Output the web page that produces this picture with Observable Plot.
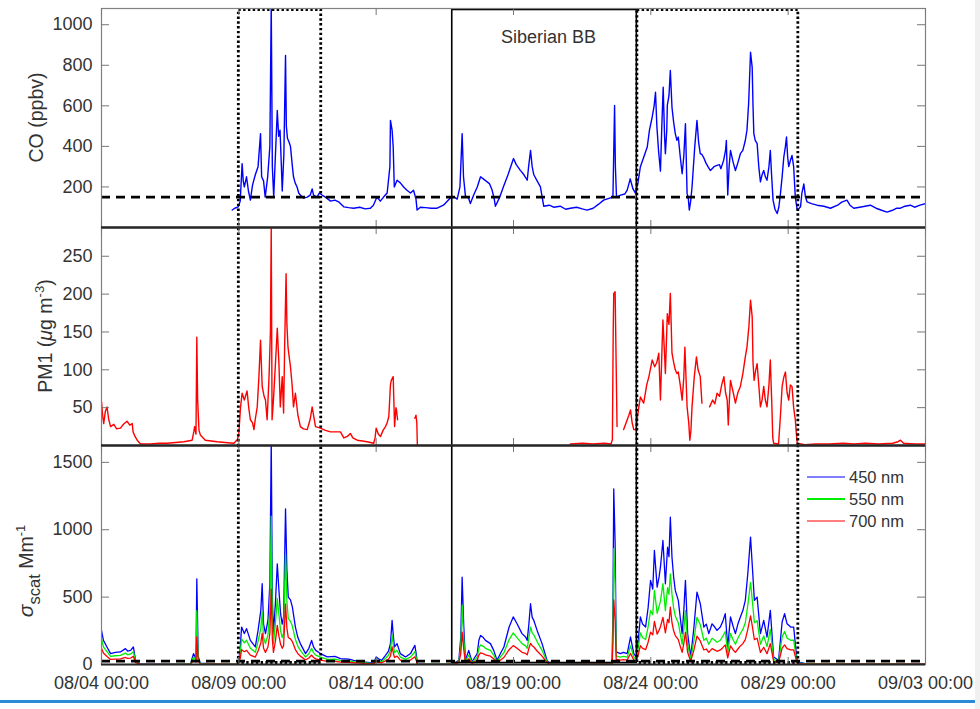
<!DOCTYPE html>
<html><head><meta charset="utf-8">
<script src="https://cdn.jsdelivr.net/npm/d3@7"></script>
<script src="https://cdn.jsdelivr.net/npm/@observablehq/plot@0.6"></script>
<style>
body{margin:0;background:#fff;}
#wrap{position:relative;width:980px;height:709px;overflow:hidden;background:#fff;}
#charts svg{display:block;}
#edge{position:absolute;left:975px;top:0;width:5px;height:709px;background:#f0f0f0;}
#bar{position:absolute;left:0;top:700px;width:975px;height:3px;background:#2b8ad8;}
</style></head><body>
<div id="wrap"><div id="charts"></div><div id="edge"></div><div id="bar"></div></div>
<script>
// ---- axis / annotation data (days since 08/04 00:00) ----
const xTicks = [0, 5, 10, 15, 20, 25, 30];
const xTickLabels = ["08/04 00:00", "08/09 00:00", "08/14 00:00", "08/19 00:00", "08/24 00:00", "08/29 00:00", "09/03 00:00"];
const coTicks = [200, 400, 600, 800, 1000];
const pmTicks = [50, 100, 150, 200, 250];
const scatTicks = [0, 500, 1000, 1500];
const coDomain = [0, 1080];
const pmDomain = [0, 288];
const scatDomain = [0, 1625];
const coBackground = 150;
const scatBackground = 25;
const boxes = [
  {start: 5.0, end: 8.0, kind: "dotted"},
  {start: 12.77, end: 19.49, kind: "solid", label: "Siberian BB"},
  {start: 19.51, end: 25.37, kind: "dotted"}
];
const wavelengths = ["450 nm", "550 nm", "700 nm"];
const waveColors = ["#0000ff", "#00ee00", "#ff0000"];

// ---- CO (ppbv): [day, value] ----
const coData = [[4.76,86],[4.85,95],[4.98,102],[5.05,130],[5.12,315],[5.16,230],[5.2,200],[5.28,250],[5.35,180],[5.42,135],[5.5,210],[5.6,260],[5.7,300],[5.79,463],[5.83,250],[5.9,230],[5.96,150],[6.05,250],[6.13,400],[6.18,1100],[6.22,300],[6.27,150],[6.33,350],[6.4,577],[6.45,450],[6.5,480],[6.55,300],[6.58,180],[6.64,360],[6.7,848],[6.73,500],[6.77,440],[6.83,420],[6.88,400],[6.95,300],[6.99,250],[7.05,220],[7.12,200],[7.18,170],[7.24,160],[7.35,145],[7.49,150],[7.6,160],[7.67,190],[7.72,160],[7.85,150],[7.93,170],[8.03,160],[8.15,150],[8.34,130],[8.5,135],[8.65,125],[8.82,102],[9.0,98],[9.18,95],[9.4,100],[9.6,92],[9.79,95],[9.9,110],[10.03,150],[10.15,130],[10.27,150],[10.4,170],[10.5,300],[10.52,528],[10.58,480],[10.62,397],[10.66,200],[10.76,233],[10.88,220],[11.0,200],[11.12,184],[11.25,170],[11.36,184],[11.45,140],[11.49,86],[11.61,100],[11.8,98],[12.0,95],[12.22,95],[12.45,110],[12.7,145],[12.85,150],[12.95,140],[13.05,200],[13.13,463],[13.18,250],[13.25,155],[13.35,150],[13.43,118],[13.55,160],[13.68,200],[13.8,250],[13.9,240],[14.04,225],[14.13,215],[14.22,185],[14.3,140],[14.34,105],[14.5,150],[14.63,200],[14.8,260],[15.0,340],[15.1,310],[15.25,282],[15.38,260],[15.5,233],[15.55,300],[15.62,380],[15.68,300],[15.74,260],[15.86,230],[15.98,200],[16.1,105],[16.3,110],[16.46,100],[16.7,105],[16.9,90],[17.07,95],[17.3,100],[17.5,92],[17.68,86],[17.9,95],[18.1,115],[18.28,135],[18.5,145],[18.62,150],[18.66,450],[18.68,602],[18.71,300],[18.75,150],[18.9,160],[19.05,165],[19.14,184],[19.25,240],[19.35,190],[19.44,170],[19.53,220],[19.62,300],[19.75,350],[19.87,397],[19.95,480],[20.05,545],[20.12,600],[20.17,667],[20.22,500],[20.28,380],[20.35,278],[20.4,500],[20.45,692],[20.5,450],[20.53,364],[20.58,480],[20.6,602],[20.66,650],[20.71,774],[20.77,593],[20.83,520],[20.89,463],[20.95,430],[21.0,446],[21.07,350],[21.14,265],[21.2,350],[21.26,512],[21.32,167],[21.36,150],[21.4,86],[21.45,130],[21.5,200],[21.6,400],[21.68,528],[21.74,420],[21.8,364],[21.86,360],[21.92,346],[22.0,320],[22.08,300],[22.17,281],[22.3,300],[22.41,306],[22.5,310],[22.55,290],[22.65,331],[22.72,380],[22.75,429],[22.8,160],[22.85,300],[22.9,380],[23.0,320],[23.08,281],[23.17,320],[23.26,364],[23.35,380],[23.44,429],[23.5,480],[23.56,610],[23.63,864],[23.69,790],[23.72,600],[23.75,463],[23.8,430],[23.87,414],[23.93,300],[23.99,225],[24.05,260],[24.11,281],[24.17,250],[24.23,233],[24.3,300],[24.35,380],[24.4,250],[24.45,135],[24.52,90],[24.6,69],[24.66,100],[24.72,168],[24.78,250],[24.84,346],[24.9,400],[24.94,446],[24.98,350],[25.02,300],[25.08,330],[25.14,355],[25.2,300],[25.26,150],[25.33,86],[25.4,95],[25.45,102],[25.5,170],[25.57,215],[25.63,150],[25.69,126],[25.85,118],[26.05,110],[26.3,105],[26.54,95],[26.8,110],[26.95,125],[27.14,135],[27.25,110],[27.39,95],[27.6,100],[27.8,105],[27.99,110],[28.2,95],[28.4,85],[28.6,76],[28.8,85],[28.95,95],[29.09,95],[29.25,105],[29.45,110],[29.6,100],[29.8,110],[30.0,118]];

// ---- PM1 (ug m-3): [day, value]; null = no data ----
const pm1Data = [[0,58],[0.04,40],[0.08,29],[0.14,45],[0.2,51],[0.26,35],[0.33,25],[0.45,28],[0.55,22],[0.69,23],[0.8,28],[0.93,32],[1.03,27],[1.12,29],[1.15,18],[1.22,12],[1.3,7],[1.42,2],[1.78,2],[2.1,3],[2.39,3],[2.7,4],[3.0,5],[3.15,6],[3.3,7],[3.36,18],[3.39,25],[3.44,15],[3.47,143],[3.5,60],[3.55,20],[3.6,14],[3.78,7],[4.0,6],[4.21,5],[4.5,4],[4.82,3],[4.95,8],[5.0,16],[5.06,50],[5.12,69],[5.2,60],[5.3,72],[5.36,50],[5.42,34],[5.5,30],[5.55,21],[5.6,35],[5.67,51],[5.73,90],[5.79,139],[5.85,78],[5.92,65],[5.97,60],[6.03,34],[6.1,91],[6.15,150],[6.18,289],[6.21,34],[6.26,60],[6.3,86],[6.35,120],[6.4,155],[6.46,108],[6.51,51],[6.58,91],[6.63,43],[6.67,135],[6.72,227],[6.75,160],[6.79,130],[6.84,115],[6.88,104],[6.94,80],[6.99,51],[7.06,69],[7.15,40],[7.24,25],[7.35,22],[7.49,21],[7.6,35],[7.67,51],[7.72,40],[7.79,25],[7.97,23],[8.15,20],[8.34,18],[8.5,18],[8.7,18],[8.82,10],[8.95,12],[9.06,16],[9.15,10],[9.31,7],[9.5,6],[9.67,5],[9.91,3],[9.96,10],[10.0,23],[10.08,15],[10.16,12],[10.25,20],[10.34,25],[10.4,30],[10.46,38],[10.52,80],[10.55,86],[10.62,91],[10.67,25],[10.72,50],[10.74,47],[10.78,34],[10.8,null],[11.4,null],[11.41,36],[11.45,40],[11.48,30],[11.5,0],[11.52,null],[17.0,null],[17.07,2],[17.5,3],[17.9,2],[18.3,3],[18.55,2],[18.6,8],[18.63,150],[18.65,201],[18.7,203],[18.74,100],[18.77,25],[18.8,null],[18.98,null],[19.01,21],[19.1,30],[19.2,40],[19.26,47],[19.32,30],[19.38,21],[19.47,21],[19.5,34],[19.56,50],[19.62,64],[19.74,56],[19.85,80],[19.93,91],[20.05,113],[20.14,104],[20.22,110],[20.29,122],[20.35,60],[20.4,120],[20.44,166],[20.5,120],[20.53,95],[20.6,174],[20.66,160],[20.71,201],[20.77,122],[20.83,110],[20.89,100],[20.95,95],[21.0,97],[21.07,80],[21.14,60],[21.2,90],[21.24,130],[21.32,51],[21.38,30],[21.42,7],[21.46,20],[21.5,51],[21.58,90],[21.66,117],[21.72,100],[21.8,91],[21.86,56],[21.88,null],[22.1,null],[22.14,51],[22.25,60],[22.33,55],[22.41,69],[22.5,65],[22.58,80],[22.66,91],[22.72,70],[22.78,60],[22.82,27],[22.86,60],[22.9,86],[23.0,70],[23.08,56],[23.17,70],[23.26,78],[23.35,95],[23.44,117],[23.5,130],[23.57,157],[23.63,192],[23.69,170],[23.72,110],[23.76,86],[23.82,100],[23.87,108],[23.93,80],[23.99,51],[24.05,60],[24.11,78],[24.17,60],[24.23,51],[24.3,80],[24.35,113],[24.4,60],[24.44,10],[24.47,3],[24.65,2],[24.72,40],[24.78,78],[24.84,90],[24.9,97],[24.96,70],[25.02,60],[25.08,80],[25.14,78],[25.2,50],[25.26,34],[25.3,15],[25.33,3],[25.6,1],[26.0,2],[26.5,2],[27.0,3],[27.4,2],[27.8,3],[28.3,2],[28.8,3],[29.0,5],[29.09,7],[29.2,3],[29.6,2],[30.0,2]];

// ---- scattering coefficient (Mm-1) ----
const scatTime = [0,0.07,0.2,0.33,0.5,0.69,0.87,0.95,1.06,1.16,
1.24,1.42,2.0,2.8,3.24,3.35,3.44,3.47,3.52,3.6,
4.2,4.98,5.05,5.1,5.2,5.28,5.42,5.6,5.7,5.8,
5.85,5.9,5.97,6.06,6.13,6.18,6.22,6.26,6.33,6.4,
6.46,6.52,6.58,6.63,6.7,6.75,6.8,6.88,6.95,7.06,
7.15,7.24,7.43,7.55,7.65,7.72,7.8,7.97,8.22,8.5,
8.7,9.0,9.18,9.4,9.55,9.91,10.0,10.1,10.2,10.34,
10.45,10.52,10.58,10.63,10.67,10.76,10.88,11.07,11.25,11.35,
11.41,11.47,11.5,12.0,12.83,13.01,13.08,13.13,13.19,13.25,
13.37,13.49,13.58,13.68,13.74,13.8,13.9,13.98,14.16,14.28,
14.4,14.52,14.65,14.84,14.99,15.13,15.31,15.44,15.5,15.56,
15.62,15.68,15.74,15.86,16.04,16.22,16.34,17.0,17.8,18.3,
18.59,18.62,18.65,18.7,18.74,18.89,19.0,19.14,19.26,19.38,
19.47,19.55,19.62,19.7,19.81,19.9,19.99,20.07,20.13,20.23,
20.3,20.35,20.44,20.53,20.61,20.66,20.71,20.77,20.83,20.89,
21.0,21.07,21.14,21.2,21.26,21.34,21.45,21.57,21.68,21.8,
21.93,22.02,22.11,22.23,22.32,22.41,22.53,22.62,22.71,22.8,
22.9,23.0,23.08,23.17,23.26,23.35,23.44,23.53,23.63,23.69,
23.77,23.87,23.99,24.11,24.23,24.35,24.47,24.65,24.78,24.87,
24.96,25.09,25.2,25.26,25.33,25.6,26.5,27.5,28.5,29.3,
30];
const scat450 = [253,179,130,81,90,93,118,100,105,130,
31,2,2,3,5,81,40,636,60,10,
4,3,120,278,230,266,179,130,253,400,
599,300,229,327,600,1660,500,229,450,747,
550,377,300,353,1155,700,500,480,426,278,
200,155,81,120,179,130,105,81,56,60,
44,40,31,25,19,10,56,40,31,68,
100,155,327,200,130,155,81,56,81,120,
142,60,2,3,5,31,200,648,278,31,
105,19,50,81,180,216,200,179,155,105,
31,80,130,278,353,302,229,204,179,300,
451,350,327,253,155,31,3,4,5,8,
10,400,1303,900,93,81,90,81,204,81,
56,200,353,300,278,420,624,560,846,574,
650,722,920,599,870,800,1093,796,650,550,
476,350,229,400,624,229,56,278,537,451,
278,300,229,302,280,253,278,320,377,130,
353,280,229,300,353,400,476,673,945,747,
476,500,229,327,204,402,56,31,315,377,
302,278,278,155,19,8,6,5,6,5,
5];
const scat550 = [190,130,95,60,65,68,85,72,78,95,
22,1,1,2,3,55,28,400,40,7,
3,2,80,190,160,180,120,90,170,270,
390,200,155,220,400,1100,330,155,300,490,
370,250,200,235,820,470,340,320,285,185,
135,105,55,80,120,88,70,55,38,40,
30,27,21,17,13,7,38,27,21,46,
68,105,220,135,88,105,55,38,55,80,
96,40,1,2,3,21,130,440,185,21,
70,13,34,55,120,145,135,120,105,70,
21,54,88,185,235,200,155,138,120,200,
278,235,220,170,105,21,2,2,3,5,
7,270,860,600,63,55,60,55,138,55,
38,135,235,200,185,280,400,370,550,380,
430,470,600,400,570,520,673,520,420,360,
310,230,150,260,400,150,38,180,350,295,
180,195,150,195,182,165,180,210,245,85,
230,182,150,195,230,260,310,440,610,485,
310,325,150,212,133,260,38,21,205,245,
196,180,180,100,13,5,4,3,4,3,
3];
const scat700 = [120,85,60,38,40,42,52,45,48,60,
14,1,1,1,2,32,18,204,25,4,
2,1,45,110,95,105,70,55,100,160,
230,120,90,130,230,560,190,90,170,290,
210,150,120,140,450,270,200,190,170,110,
80,62,33,48,70,52,42,33,23,24,
18,16,13,10,8,4,22,16,13,27,
40,62,130,80,52,62,33,23,33,48,
57,24,1,1,2,13,80,240,110,13,
42,8,20,33,70,86,80,72,62,42,
13,32,52,110,140,120,90,82,72,120,
157,140,130,100,62,13,1,1,2,3,
4,160,480,330,37,33,36,33,82,33,
23,80,140,120,110,165,240,220,320,225,
255,280,350,235,335,310,426,310,250,215,
185,135,90,155,240,90,23,108,210,175,
108,115,90,118,108,98,108,125,145,50,
138,108,90,115,138,155,185,260,360,290,
185,195,90,128,80,155,23,13,122,145,
118,108,108,60,8,3,2,2,2,2,
2];

// ---- build tables ----
const co = coData.map(([t, v]) => ({t, v}));
const pm1 = pm1Data.map(([t, v]) => ({t, v}));
const scatSeries = [scat450, scat550, scat700].map(vals => scatTime.map((t, i) => ({t, v: vals[i]})));

const W = 980, ML = 101, MR = 55;
const PW = W - ML - MR;
const FONT = "'Liberation Sans', Arial, Helvetica, sans-serif";
const TXT = "#333";

function panel({height, marginTop, marginBottom, yDomain, yTicks, dataMarks, boxInsetTop, boxInsetBottom, extra = [], showX = false, topRule = false}) {
  const PH = height - marginTop - marginBottom;
  const marks = [
    ...dataMarks,
    Plot.rect(boxes.filter(b => b.kind === "dotted"), {x1: "start", x2: "end", fill: "none", stroke: "#000", strokeWidth: 2.8, strokeDasharray: "2.4,2.4", insetTop: boxInsetTop, insetBottom: boxInsetBottom, clip: true}),
    Plot.rect(boxes.filter(b => b.kind === "solid"), {x1: "start", x2: "end", fill: "none", stroke: "#000", strokeWidth: 1.6, insetTop: boxInsetTop, insetBottom: boxInsetBottom, clip: true}),
    ...extra,
    Plot.frame({stroke: "#808080", strokeWidth: 1.2}),
    // inward ticks: left, right, top, bottom
    Plot.tickY(yTicks, {y: d => d, insetRight: PW - 8, stroke: "#777", strokeWidth: 1}),
    Plot.tickY(yTicks, {y: d => d, insetLeft: PW - 8, stroke: "#777", strokeWidth: 1}),
    Plot.tickX(xTicks, {x: d => d, insetBottom: PH - 7, stroke: "#777", strokeWidth: 1}),
    Plot.tickX(xTicks, {x: d => d, insetTop: PH - 7, stroke: "#777", strokeWidth: 1}),
    Plot.axisY({ticks: yTicks, tickFormat: d => `${d}`, tickSize: 0, tickPadding: 9, label: null, fontSize: 18, fill: TXT}),
    Plot.ruleY([yDomain[0]], {stroke: "#262626", strokeWidth: 1.8})
  ];
  if (topRule) marks.push(Plot.ruleY([yDomain[1]], {stroke: "#262626", strokeWidth: 1.8}));
  if (showX) marks.push(Plot.axisX({ticks: xTicks, tickFormat: d => xTickLabels[xTicks.indexOf(d)], tickSize: 0, tickPadding: 12, label: null, fontSize: 18, fill: TXT}));
  return Plot.plot({
    width: W, height, marginLeft: ML, marginRight: MR, marginTop, marginBottom,
    style: {fontFamily: FONT, fontSize: "18px", color: TXT, background: "transparent", overflow: "visible"},
    x: {domain: [0, 30], axis: null},
    y: {domain: yDomain, axis: null},
    marks
  });
}

const p1 = panel({
  height: 227, marginTop: 8, marginBottom: 0, yDomain: coDomain, yTicks: coTicks,
  boxInsetTop: 1.5, boxInsetBottom: -12,
  dataMarks: [
    Plot.line(co, {x: "t", y: "v", stroke: "#0000ff", strokeWidth: 1.4, clip: true}),
    Plot.ruleY([coBackground], {stroke: "#000", strokeWidth: 2.6, strokeDasharray: "9,6"})
  ],
  extra: [
    Plot.text(boxes.filter(b => b.label), {x: b => (b.start + b.end) / 2, text: "label", frameAnchor: "top", dy: 22, dx: 4, fontSize: 18, fill: TXT})
  ]
});

const p2 = panel({
  height: 218, marginTop: 0, marginBottom: 0, yDomain: pmDomain, yTicks: pmTicks,
  boxInsetTop: -12, boxInsetBottom: -12, topRule: true,
  dataMarks: [
    Plot.line(pm1, {x: "t", y: "v", stroke: "#ff0000", strokeWidth: 1.4, clip: true})
  ]
});

const p3 = panel({
  height: 259, marginTop: 0, marginBottom: 40, yDomain: scatDomain, yTicks: scatTicks,
  boxInsetTop: -12, boxInsetBottom: 1.5, showX: true, topRule: true,
  dataMarks: [
    ...scatSeries.map((s, i) => Plot.line(s, {x: "t", y: "v", stroke: waveColors[i], strokeWidth: 1.3, clip: true})),
    Plot.ruleY([scatBackground], {stroke: "#000", strokeWidth: 2.6, strokeDasharray: "9,6"})
  ]
});

const charts = document.getElementById("charts");
[p1, p2, p3].forEach(p => charts.appendChild(p));

// ---- y-axis titles (rich text) ----
function ylabel(svg, x, y, parts) {
  const t = d3.select(svg).append("text")
    .attr("transform", `translate(${x},${y}) rotate(-90)`)
    .attr("text-anchor", "middle")
    .attr("font-family", FONT).attr("font-size", 19.5).attr("fill", TXT);
  parts.forEach(p => {
    const s = t.append("tspan").text(p.text);
    if (p.italic) s.attr("font-style", "italic");
    if (p.size) s.attr("font-size", p.size);
    if (p.dy) s.attr("dy", p.dy);
  });
}
ylabel(p1, 43, 117.5, [{text: "CO (ppbv)"}]);
ylabel(p2, 52, 109, [{text: "PM1 ("}, {text: "\u03bc", italic: true}, {text: "g m"}, {text: "-3", size: 13, dy: -8}, {text: ")", dy: 8}]);
ylabel(p3, 33, 126, [{text: "\u03c3", italic: true, size: 21}, {text: "scat", size: 16.5, dy: 7}, {text: " Mm", dy: -7}, {text: "-1", size: 13, dy: -8}]);

// ---- legend in bottom panel ----
const lg = d3.select(p3).append("g").attr("font-family", FONT).attr("font-size", 16.5).attr("fill", TXT).attr("text-anchor", "start");
wavelengths.forEach((w, i) => {
  const yy = 32 + i * 22;
  lg.append("line").attr("x1", 807).attr("x2", 845).attr("y1", yy).attr("y2", yy)
    .attr("stroke", waveColors[i]).attr("stroke-width", i === 1 ? 1.8 : 1.2);
  lg.append("text").attr("x", 849).attr("y", yy).attr("dy", "0.35em").attr("text-anchor", "start").text(w);
});
</script>
</body></html>
